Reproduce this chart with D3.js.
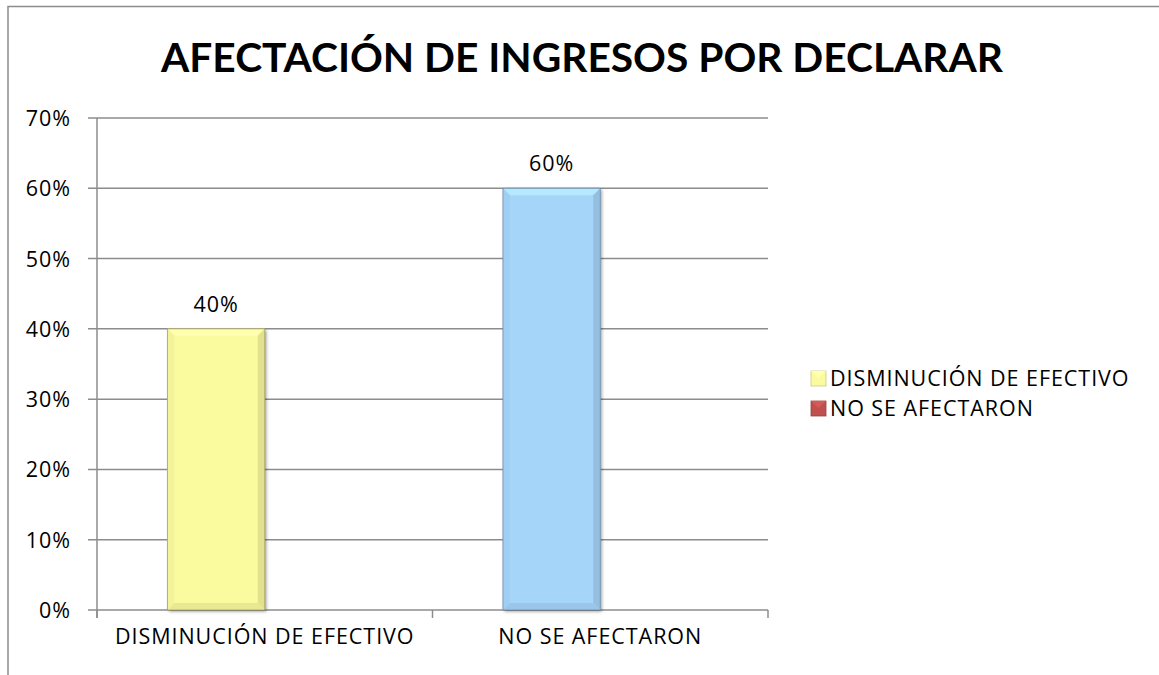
<!DOCTYPE html>
<html>
<head>
<meta charset="utf-8">
<script src="https://cdn.jsdelivr.net/npm/d3@7"></script>
<style>
  body { margin: 0; background: #fff; }
  svg { display: block; }
  svg text { font-family: "Open Sans", sans-serif; letter-spacing: 0.95px; }
  svg text.title { font-family: Lato, sans-serif; letter-spacing: 0; }
</style>
</head>
<body>
<div id="chart"></div>
<script>
const categories = ["DISMINUCIÓN DE EFECTIVO", "NO SE AFECTARON"];
const values = [0.40, 0.60];
const seriesNames = ["DISMINUCIÓN DE EFECTIVO", "NO SE AFECTARON"];
const barColors = ["#FAFA9E", "#A6D5FA"];
const legendColors = ["#FAFA9E", "#C0504D"];
const yTicks = [0, 0.1, 0.2, 0.3, 0.4, 0.5, 0.6, 0.7];
const titleText = "AFECTACIÓN DE INGRESOS POR DECLARAR";

var width = 1159, height = 675;
var margin = {top: 118, left: 97, right: 391, bottom: 65};
var plotW = width - margin.left - margin.right,
    plotH = height - margin.top - margin.bottom;
var fs = "21.5px";

var svg = d3.select("#chart").append("svg")
  .attr("width", width).attr("height", height);

// chart frame (only top and left edges show)
svg.append("path")
  .attr("d", "M8,675 V6.5 H1159")
  .attr("fill", "none").attr("stroke", "#8c8c8c").attr("stroke-width", 1.5);

svg.append("text").attr("class", "title")
  .attr("x", 582).attr("y", 72)
  .attr("text-anchor", "middle")
  .style("font-size", "40.7px").style("font-weight", "bold")
  .text(titleText);

var g = svg.append("g").attr("transform", "translate(" + margin.left + "," + margin.top + ")");

var x = d3.scaleBand().domain(categories).range([0, plotW]);
var y = d3.scaleLinear().domain([0, 0.7]).range([plotH, 0]);
var barW = x.bandwidth() * 0.29;

// gridlines
g.selectAll(".grid").data(yTicks).enter().append("line")
  .attr("x1", -9).attr("x2", plotW)
  .attr("y1", d => y(d)).attr("y2", d => y(d))
  .attr("stroke", "#8c8c8c").attr("stroke-width", 1.5);

// y axis
var yAxis = g.append("g").call(d3.axisLeft(y).tickValues(yTicks).tickFormat(d3.format(".0%")).tickSize(0).tickPadding(26));
yAxis.attr("font-family", null);
yAxis.select(".domain").remove();
yAxis.selectAll("text").style("font-size", fs).style("fill", "#000").attr("dy", "0.35em");
g.append("line").attr("x1", 0).attr("x2", 0).attr("y1", 0).attr("y2", plotH + 8)
  .attr("stroke", "#8c8c8c").attr("stroke-width", 1.5);

// x axis
var xAxis = g.append("g").attr("transform", "translate(0," + plotH + ")")
  .call(d3.axisBottom(x).tickSize(0).tickPadding(19));
xAxis.attr("font-family", null);
xAxis.select(".domain").remove();
xAxis.selectAll("text").style("font-size", fs).style("fill", "#000");
g.selectAll(".xtick").data(d3.range(categories.length + 1)).enter().append("line")
  .attr("x1", d => d * x.step()).attr("x2", d => d * x.step())
  .attr("y1", plotH).attr("y2", plotH + 8)
  .attr("stroke", "#8c8c8c").attr("stroke-width", 1.5);

// bars with bevel
var defs = svg.append("defs");
var shadow = defs.append("filter").attr("id", "sh").attr("x", "-20%").attr("y", "-20%").attr("width", "140%").attr("height", "140%");
shadow.append("feDropShadow").attr("dx", 1.5).attr("dy", 1.5).attr("stdDeviation", 1.5).attr("flood-opacity", 0.4);

var bars = g.selectAll(".bar").data(values).enter().append("g");
bars.each(function(v, i) {
  var sel = d3.select(this);
  var x0 = x(categories[i]) + x.bandwidth() / 2 - barW,
      y0 = y(v), h = y(0) - y(v), b = 7;
  var col = d3.color(barColors[i]);
  sel.append("rect").attr("x", x0).attr("y", y0).attr("width", barW).attr("height", h)
    .attr("fill", barColors[i]).attr("filter", "url(#sh)");
  // top bevel
  sel.append("path").attr("d", `M${x0},${y0}H${x0 + barW}L${x0 + barW - b},${y0 + b}H${x0 + b}Z`)
    .attr("fill", col.brighter(0.25));
  // left bevel
  sel.append("path").attr("d", `M${x0},${y0}L${x0 + b},${y0 + b}V${y0 + h - b}L${x0},${y0 + h}Z`)
    .attr("fill", col.darker(0.08));
  // right bevel
  sel.append("path").attr("d", `M${x0 + barW},${y0}L${x0 + barW - b},${y0 + b}V${y0 + h - b}L${x0 + barW},${y0 + h}Z`)
    .attr("fill", col.darker(0.3));
  // bottom bevel
  sel.append("path").attr("d", `M${x0},${y0 + h}L${x0 + b},${y0 + h - b}H${x0 + barW - b}L${x0 + barW},${y0 + h}Z`)
    .attr("fill", col.darker(0.2));
  sel.append("rect").attr("x", x0).attr("y", y0).attr("width", barW).attr("height", h)
    .attr("fill", "none").attr("stroke", col.darker(1.2)).attr("stroke-width", 0.8);
  sel.append("text").attr("x", x0 + barW / 2).attr("y", y0 - 17)
    .attr("text-anchor", "middle").style("font-size", fs)
    .text(d3.format(".0%")(v));
});

// legend
var legend = svg.append("g").attr("transform", "translate(811,371)");
seriesNames.forEach(function(name, i) {
  var row = legend.append("g").attr("transform", "translate(0," + (i * 30) + ")");
  var c = d3.color(legendColors[i]);
  row.append("rect").attr("width", 15).attr("height", 15).attr("fill", legendColors[i])
    .attr("stroke", c.darker(0.6)).attr("stroke-width", 0.8);
  row.append("path").attr("d", "M0,0H15L7.5,7Z").attr("fill", c.brighter(0.3));
  row.append("text").attr("x", 19).attr("y", 7.5).attr("dy", "0.35em")
    .style("font-size", fs).text(name);
});
</script>
</body>
</html>
